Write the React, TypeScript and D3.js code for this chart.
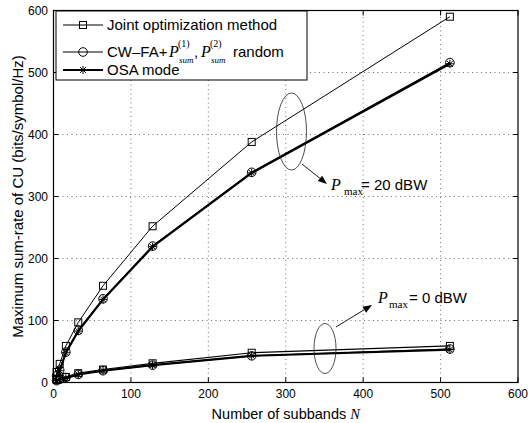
import React from 'react';
import * as d3 from 'd3';

const subbands = [4, 8, 16, 32, 64, 128, 256, 512];
const joint20 = [17, 30, 59, 97, 156, 252, 388, 590];
const cwfa20 = [11, 20, 49, 84, 135, 220, 339, 516];
const osa20 = [10, 19, 48, 83, 134, 219, 338, 514];
const joint0 = [4, 6, 9, 15, 21, 31, 48, 59];
const cwfa0 = [3, 5, 8, 13, 19, 28, 43, 54];
const osa0 = [3, 5, 7, 13, 19, 28, 43, 53];
const xTicks = [0, 100, 200, 300, 400, 500, 600];
const yTicks = [0, 100, 200, 300, 400, 500, 600];
const legendLabels = ['Joint optimization method', 'CW–FA+', 'OSA mode'];

const W = 528;
const H = 423;
const L = 53.5, R = 518, T = 10.5, B = 382.5;
const SANS = '"Liberation Sans", Arial, Helvetica, sans-serif';
const SERIF = '"Liberation Serif", "Times New Roman", serif';

const x = d3.scaleLinear().domain([0, 600]).range([L, R]);
const y = d3.scaleLinear().domain([0, 600]).range([B, T]);

type Kind = 'square' | 'circle' | 'star';

function Marker({ cx, cy, kind }: { cx: number; cy: number; kind: Kind }) {
  if (kind === 'square') {
    return <rect x={cx - 3.5} y={cy - 3.5} width={7} height={7} fill="none" stroke="#000" strokeWidth={1} />;
  }
  if (kind === 'circle') {
    return <circle cx={cx} cy={cy} r={4.3} fill="none" stroke="#000" strokeWidth={1} />;
  }
  const s = 4;
  const d = s * 0.72;
  return (
    <g stroke="#000" strokeWidth={1}>
      <line x1={cx - s} y1={cy} x2={cx + s} y2={cy} />
      <line x1={cx} y1={cy - s} x2={cx} y2={cy + s} />
      <line x1={cx - d} y1={cy - d} x2={cx + d} y2={cy + d} />
      <line x1={cx - d} y1={cy + d} x2={cx + d} y2={cy - d} />
    </g>
  );
}

function Series({ values, kind, width }: { values: number[]; kind: Kind; width: number }) {
  const line = d3.line<number>().x((_, i) => x(subbands[i])).y((v) => y(v));
  return (
    <g>
      <path d={line(values) || ''} fill="none" stroke="#000" strokeWidth={width} strokeLinejoin="round" />
      {values.map((v, i) => (
        <Marker key={i} cx={x(subbands[i])} cy={y(v)} kind={kind} />
      ))}
    </g>
  );
}

function Arrow({ x1, y1, x2, y2 }: { x1: number; y1: number; x2: number; y2: number }) {
  const a = Math.atan2(y2 - y1, x2 - x1);
  const len = 9, wid = 3.5;
  const bx = x2 - len * Math.cos(a), by = y2 - len * Math.sin(a);
  const p1 = [bx + wid * Math.sin(a), by - wid * Math.cos(a)];
  const p2 = [bx - wid * Math.sin(a), by + wid * Math.cos(a)];
  return (
    <g>
      <line x1={x1} y1={y1} x2={bx} y2={by} stroke="#000" strokeWidth={0.9} />
      <polygon points={`${x2},${y2} ${p1[0]},${p1[1]} ${p2[0]},${p2[1]}`} fill="#000" />
    </g>
  );
}

export default function App() {
  const kinds: Kind[] = ['square', 'circle', 'star'];
  const rowY = [25, 52, 70];
  return (
    <svg width={W} height={H} style={{ position: 'absolute', left: 0, top: 0, background: '#fff' }}>
      <rect x={0} y={0} width={W} height={H} fill="#fff" />
      {/* grid */}
      <g stroke="#000" strokeWidth={0.8} strokeDasharray="1,3.5" opacity={0.7}>
        {xTicks.slice(1, -1).map((t) => (
          <line key={'gx' + t} x1={x(t)} x2={x(t)} y1={B} y2={T} />
        ))}
        {yTicks.slice(1, -1).map((t) => (
          <line key={'gy' + t} x1={L} x2={R} y1={y(t)} y2={y(t)} />
        ))}
      </g>
      {/* ticks */}
      <g stroke="#000" strokeWidth={1}>
        {xTicks.map((t) => (
          <g key={'tx' + t}>
            <line x1={x(t)} x2={x(t)} y1={B} y2={B - 5} />
            <line x1={x(t)} x2={x(t)} y1={T} y2={T + 5} />
          </g>
        ))}
        {yTicks.map((t) => (
          <g key={'ty' + t}>
            <line x1={L} x2={L + 5} y1={y(t)} y2={y(t)} />
            <line x1={R} x2={R - 5} y1={y(t)} y2={y(t)} />
          </g>
        ))}
      </g>
      {/* series */}
      <Series values={joint20} kind="square" width={1} />
      <Series values={cwfa20} kind="circle" width={1.2} />
      <Series values={osa20} kind="star" width={2.2} />
      <Series values={joint0} kind="square" width={1.2} />
      <Series values={cwfa0} kind="circle" width={1.2} />
      <Series values={osa0} kind="star" width={2.2} />
      {/* frame */}
      <rect x={L} y={T} width={R - L} height={B - T} fill="none" stroke="#000" strokeWidth={1.2} />
      {/* tick labels */}
      <g fontFamily={SANS} fontSize={12} fill="#000">
        {xTicks.map((t) => (
          <text key={'lx' + t} x={x(t)} y={398} textAnchor="middle">{t}</text>
        ))}
        {yTicks.map((t) => (
          <text key={'ly' + t} x={48} y={y(t) + 4.3} textAnchor="end">{t}</text>
        ))}
      </g>
      {/* axis titles */}
      <text x={(L + R) / 2} y={418.5} textAnchor="middle" fontFamily={SANS} fontSize={14.5}>
        Number of subbands <tspan fontFamily={SERIF} fontStyle="italic">N</tspan>
      </text>
      <text transform={`translate(23,${(T + B) / 2}) rotate(-90)`} textAnchor="middle" fontFamily={SANS} fontSize={15}>
        Maximum sum-rate of CU (bits/symbol/Hz)
      </text>
      {/* legend */}
      <rect x={56} y={11} width={251} height={69} fill="#fff" stroke="#000" strokeWidth={1} />
      {kinds.map((k, i) => (
        <g key={'lg' + i}>
          <line x1={63} x2={103} y1={rowY[i]} y2={rowY[i]} stroke="#000" strokeWidth={k === 'star' ? 2.2 : 1.2} />
          <Marker cx={83} cy={rowY[i]} kind={k} />
          <text x={107} y={rowY[i] + 5.3} fontFamily={SANS} fontSize={15}>{legendLabels[i]}</text>
        </g>
      ))}
      <g fill="#000">
        <text x={169} y={57.3} fontFamily={SERIF} fontStyle="italic" fontSize={16}>P</text>
        <text x={178} y={47} fontFamily={SERIF} fontSize={10}>(1)</text>
        <text x={179} y={63} fontFamily={SERIF} fontStyle="italic" fontSize={9}>sum</text>
        <text x={194} y={57.3} fontFamily={SANS} fontSize={15}>,</text>
        <text x={201} y={57.3} fontFamily={SERIF} fontStyle="italic" fontSize={16}>P</text>
        <text x={210} y={47} fontFamily={SERIF} fontSize={10}>(2)</text>
        <text x={211} y={63} fontFamily={SERIF} fontStyle="italic" fontSize={9}>sum</text>
        <text x={233} y={57.3} fontFamily={SANS} fontSize={15}>random</text>
      </g>
      {/* annotations */}
      <ellipse cx={291.5} cy={131.5} rx={15} ry={38.5} fill="none" stroke="#222" strokeWidth={0.8} />
      <Arrow x1={302} y1={164} x2={327} y2={184} />
      <g fill="#000">
        <text x={331} y={190} fontFamily={SERIF} fontStyle="italic" fontSize={16}>P</text>
        <text x={344} y={195} fontFamily={SERIF} fontSize={11}>max</text>
        <text x={361} y={190} fontFamily={SANS} fontSize={15}>= 20 dBW</text>
      </g>
      <ellipse cx={325} cy={348.5} rx={11} ry={25} fill="none" stroke="#222" strokeWidth={0.8} />
      <Arrow x1={336} y1={327} x2={372} y2={305} />
      <g fill="#000">
        <text x={378} y={303} fontFamily={SERIF} fontStyle="italic" fontSize={16}>P</text>
        <text x={389} y={308} fontFamily={SERIF} fontSize={11}>max</text>
        <text x={409} y={303} fontFamily={SANS} fontSize={15}>= 0 dBW</text>
      </g>
    </svg>
  );
}
